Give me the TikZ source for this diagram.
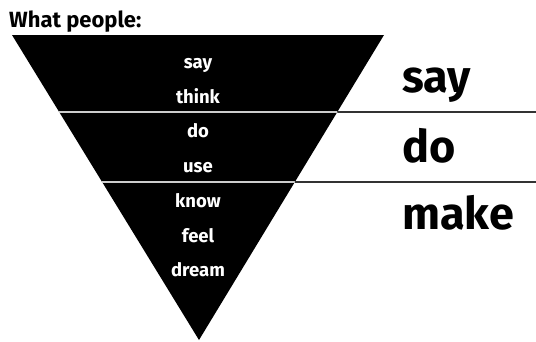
\documentclass[tikz,border=0pt]{standalone}
\usepackage{fontspec}
\setmainfont{Fira Sans}
\usepackage{tikz}
\usetikzlibrary{calc}

\begin{document}
\begin{tikzpicture}[x=1pt, y=-1pt,
    inlabel/.style={text=white, inner sep=0pt, anchor=base, font=\fontsize{18.5}{18.5}\selectfont\bfseries},
    outlabel/.style={inner sep=0pt, anchor=base west, font=\fontsize{45}{45}\selectfont\bfseries}]
  \useasboundingbox (0,0) rectangle (536,341);

  % Title
  \node[inner sep=0pt, anchor=base west, font=\fontsize{22}{22}\selectfont\bfseries] (title) at (9,27) {What people:};

  % Funnel
  \coordinate (tl) at (12,35);
  \coordinate (tr) at (384,35);
  \coordinate (ap) at (199,340);
  \fill[black] (tl) -- (tr) -- (ap) -- cycle;

  % Dividers
  \coordinate (l1) at ($(tl)!0.2525!(ap)$);
  \coordinate (r1) at ($(tr)!0.2525!(ap)$);
  \coordinate (l2) at ($(tl)!0.482!(ap)$);
  \coordinate (r2) at ($(tr)!0.482!(ap)$);
  \coordinate (e1) at (536,112);
  \coordinate (e2) at (536,182);
  \draw[black!20, line width=2pt] (l1) -- (r1);
  \draw[black!20, line width=2pt] (l2) -- (r2);
  \draw[black!80, line width=1.6pt] (r1) -- (e1);
  \draw[black!80, line width=1.6pt] (r2) -- (e2);

  % Inner labels
  \foreach \t/\y in {say/68, think/103, do/137.5, use/172.5, know/207, feel/242, dream/276} {
    \node[inlabel] (in-\t) at (198,\y) {\t};
  }

  % Right labels
  \node[outlabel] (sayR) at (402,92) {say};
  \node[outlabel] (doR) at (402,162) {do};
  \node[outlabel] (makeR) at (402,229) {make};
\end{tikzpicture}
\end{document}
